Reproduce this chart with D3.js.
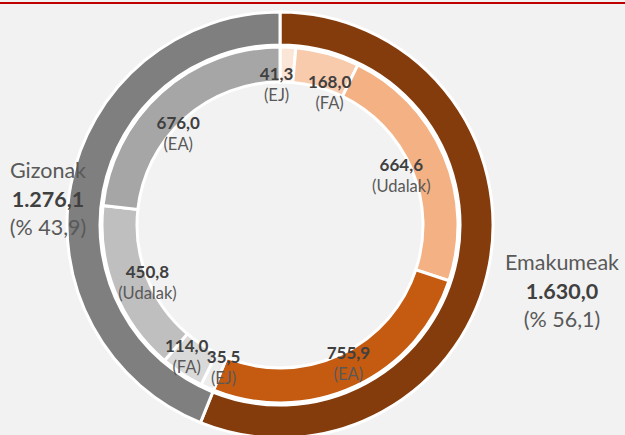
<!DOCTYPE html>
<html><head><meta charset="utf-8">
<script src="https://cdn.jsdelivr.net/npm/d3@7"></script>
<style>html,body{margin:0;padding:0;background:#F2F2F2;overflow:hidden}svg{display:block}</style>
</head><body>
<svg id="c" width="625" height="435"></svg>
<script>
// ---- data ----
const genders = ["Emakumeak", "Gizonak"];
const genderTotals = [1630.0, 1276.1];
const genderPct = [56.1, 43.9];
const categories = ["EJ", "FA", "Udalak", "EA"];
const womenValues = [41.3, 168.0, 664.6, 755.9];
const menValues = [35.5, 114.0, 450.8, 676.0];

// ---- layout / style ----
const W = 625, H = 435, cx = 280, cy = 225;
const outerColors = ["#843C0C", "#7F7F7F"];
const womenColors = ["#FBE5D6", "#F8CBAD", "#F4B183", "#C55A11"];
const menColors = ["#EDEDED", "#D9D9D9", "#BFBFBF", "#A6A6A6"];
// label nudges (dx,dy) relative to polar label anchor
const labelNudge = [[-10,8],[10,11],[-15,9],[6,5],[4,8],[-12,8],[5,3],[-3,19]];
const fmt = v => d3.format(",.1f")(v).replace(/,/g,"#").replace(".",",").replace(/#/g,".");

const svg = d3.select("#c");
svg.append("rect").attr("width", W).attr("height", H).attr("fill", "#F2F2F2");
svg.append("rect").attr("x", 0).attr("y", 2).attr("width", W).attr("height", 2).attr("fill", "#C00000");

const g = svg.append("g").attr("transform", `translate(${cx},${cy})`);
const pie = d3.pie().sort(null).value(d => d.v);

const outerData = genders.map((k, i) => ({k, v: genderTotals[i], c: outerColors[i]}));
const innerData = [
  ...categories.map((k, i) => ({k, v: womenValues[i], c: womenColors[i]})),
  ...categories.map((k, i) => ({k, v: menValues[i], c: menColors[i]}))
];

const outerArc = d3.arc().innerRadius(180).outerRadius(213);
const innerArc = d3.arc().innerRadius(143).outerRadius(178);

g.selectAll("path.o").data(pie(outerData)).join("path")
  .attr("class", "o").attr("d", outerArc).attr("fill", d => d.data.c)
  .attr("stroke", "#fff").attr("stroke-width", 3);
const innerArcs = pie(innerData);
g.selectAll("path.i").data(innerArcs).join("path")
  .attr("class", "i").attr("d", innerArc).attr("fill", d => d.data.c)
  .attr("stroke", "#fff").attr("stroke-width", 3);

const font = "Lato, 'Noto Sans', sans-serif";
const lr = 148;
innerArcs.forEach((d, i) => {
  const a = (d.startAngle + d.endAngle) / 2;
  const x = lr * Math.sin(a) + labelNudge[i][0];
  const y = -lr * Math.cos(a) + labelNudge[i][1];
  g.append("text").attr("x", x).attr("y", y - 5).attr("text-anchor", "middle")
    .attr("font-family", font).attr("font-weight", "bold").attr("font-size", 17)
    .attr("fill", "#404040").text(fmt(d.data.v));
  g.append("text").attr("x", x).attr("y", y + 16).attr("text-anchor", "middle")
    .attr("font-family", font).attr("font-size", 16.5)
    .attr("fill", "#595959").text("(" + d.data.k + ")");
});

// outer labels
const outerLabelPos = [[562, 270], [48, 178]];
genders.forEach((k, i) => {
  const [x, y] = outerLabelPos[i];
  svg.append("text").attr("x", x).attr("y", y).attr("text-anchor", "middle")
    .attr("font-family", font).attr("font-size", 21.5).attr("fill", "#595959").text(k);
  svg.append("text").attr("x", x).attr("y", y + 29).attr("text-anchor", "middle")
    .attr("font-family", font).attr("font-weight", "bold").attr("font-size", 21.5)
    .attr("fill", "#404040").text(fmt(genderTotals[i]));
  svg.append("text").attr("x", x).attr("y", y + 57).attr("text-anchor", "middle")
    .attr("font-family", font).attr("font-size", 21.5).attr("fill", "#595959")
    .text("(% " + fmt(genderPct[i]) + ")");
});
</script>
</body></html>
